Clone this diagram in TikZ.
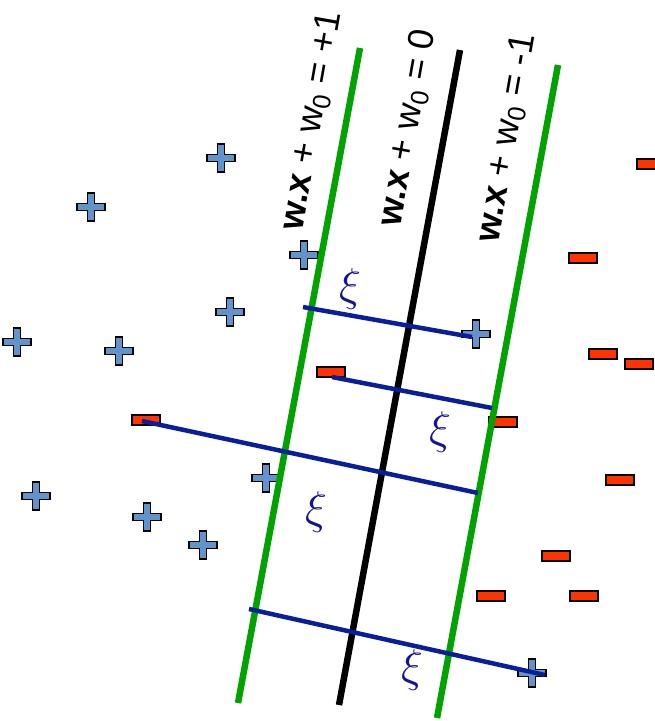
\RequirePackage{fix-cm}
\documentclass[tikz,border=0pt]{standalone}
\usepackage{fontspec}
\setmainfont{Liberation Sans}
\usetikzlibrary{calc}
\definecolor{plusblue}{RGB}{98,148,203}
\definecolor{minusred}{RGB}{255,51,0}
\definecolor{margingreen}{RGB}{0,163,0}
\definecolor{slackblue}{RGB}{10,30,155}
\definecolor{xiblue}{RGB}{20,20,150}
\tikzset{
  plusmark/.style={minimum size=32pt, inner sep=0pt, outer sep=0pt,
    path picture={
      \begin{scope}[shift={(path picture bounding box.center)}]
        \filldraw[fill=plusblue, draw=black, line width=1.6pt, line join=miter]
          (-14,-3.5) -- (-3.5,-3.5) -- (-3.5,-14) -- (3.5,-14) -- (3.5,-3.5) -- (14,-3.5)
          -- (14,3.5) -- (3.5,3.5) -- (3.5,14) -- (-3.5,14) -- (-3.5,3.5) -- (-14,3.5) -- cycle;
      \end{scope}
    }},
  minusmark/.style={rectangle, minimum width=28pt, minimum height=10pt, inner sep=0pt,
    fill=minusred, draw=black, line width=1.5pt},
  margin/.style={draw=margingreen, line width=6.5pt},
  hyper/.style={draw=black, line width=6.5pt},
  slack/.style={draw=slackblue, line width=4.5pt},
  xilabel/.style={text=xiblue, font=\fontsize{46}{50}\selectfont, inner sep=0pt},
  eqlabel/.style={rotate=80, font=\fontsize{36}{42}\selectfont, inner sep=0pt}
}
\begin{document}
\begin{tikzpicture}[x=1pt,y=-1pt]
\useasboundingbox (0,0) rectangle (654,721);
% positive points
\node[plusmark] (p1) at (221,158) {};
\node[plusmark] (p2) at (91,207) {};
\node[plusmark] (p3) at (304,255) {};
\node[plusmark] (p4) at (230,312) {};
\node[plusmark] (p5) at (17,342) {};
\node[plusmark] (p6) at (119,351) {};
\node[plusmark] (p7) at (476,334) {};
\node[plusmark] (p8) at (266,478) {};
\node[plusmark] (p9) at (36,496) {};
\node[plusmark] (p10) at (147,517) {};
\node[plusmark] (p11) at (203,545) {};
\node[plusmark] (p12) at (532,673) {};
% negative points
\node[minusmark] (m1) at (651,164) {};
\node[minusmark] (m2) at (583,258) {};
\node[minusmark] (m3) at (603,354) {};
\node[minusmark] (m4) at (639,364) {};
\node[minusmark] (m5) at (331,372) {};
\node[minusmark] (m6) at (146,420) {};
\node[minusmark] (m7) at (503,422) {};
\node[minusmark] (m8) at (620,480) {};
\node[minusmark] (m9) at (556,556) {};
\node[minusmark] (m10) at (491,596) {};
\node[minusmark] (m11) at (584,596) {};
% lines
\coordinate (g1t) at (360,48);
\coordinate (g1b) at (238,703);
\coordinate (kt) at (460,50);
\coordinate (kb) at (339,705);
\coordinate (g2t) at (558,65);
\coordinate (g2b) at (437,718);
\draw[margin] (g1t) -- (g1b);
\draw[hyper] (kt) -- (kb);
\draw[margin] (g2t) -- (g2b);
% slack segments
\coordinate (s1a) at (303,307);
\coordinate (s1b) at (472,337);
\coordinate (s2a) at (332,377);
\coordinate (s2b) at (492,408);
\coordinate (s3a) at (142,421);
\coordinate (s3b) at (478,493);
\coordinate (s4a) at (249,609);
\coordinate (s4b) at (545,675);
\draw[slack] (s1a) -- (s1b);
\draw[slack] (s2a) -- (s2b);
\draw[slack] (s3a) -- (s3b);
\draw[slack] (s4a) -- (s4b);
% xi labels
\node[xilabel] (x1) at (350,289) {$\xi$};
\node[xilabel] (x2) at (440,432) {$\xi$};
\node[xilabel] (x3) at (316,512) {$\xi$};
\node[xilabel] (x4) at (412,670) {$\xi$};
% equations
\node[eqlabel] (e1) at (312,121) {\textbf{w.x} + w\textsubscript{0} = +1};
\node[eqlabel] (e2) at (408,128) {\textbf{w.x} + w\textsubscript{0} = 0};
\node[eqlabel] (e3) at (507,138) {\textbf{w.x} + w\textsubscript{0} = -1};
\end{tikzpicture}
\end{document}
